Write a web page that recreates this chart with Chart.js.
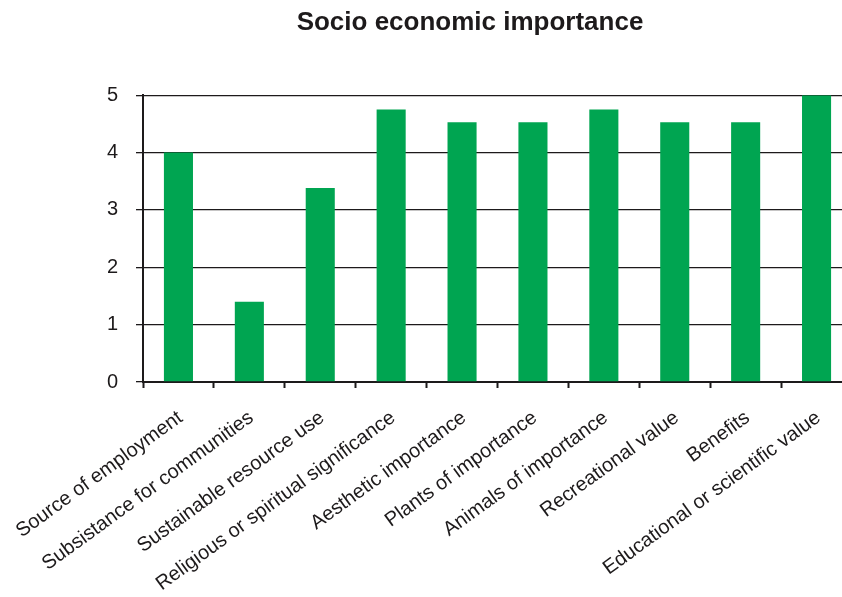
<!DOCTYPE html>
<html>
<head>
<meta charset="utf-8">
<script src="https://cdn.jsdelivr.net/npm/chart.js@4"></script>
<style>
  html, body { margin: 0; padding: 0; background: #fff; overflow: hidden; }
  canvas { display: block; }
</style>
</head>
<body>
<canvas id="chart" width="852" height="597"></canvas>
<script>
// chart data
const categories = [
  'Source of employment',
  'Subsistance for communities',
  'Sustainable resource use',
  'Religious or spiritual significance',
  'Aesthetic importance',
  'Plants of importance',
  'Animals of importance',
  'Recreational value',
  'Benefits',
  'Educational or scientific value'
];
const scores = [4.0, 1.4, 3.38, 4.75, 4.53, 4.53, 4.75, 4.53, 4.53, 5.0];
const yTicks = [0, 1, 2, 3, 4, 5];

const ink = '#1d1a1b';
const green = '#00a551';
const font = 'Liberation Sans, Arial, Helvetica, sans-serif';

const ctx = document.getElementById('chart').getContext('2d');
new Chart(ctx, {
  type: 'bar',
  data: {
    labels: categories,
    datasets: [{
      data: scores,
      backgroundColor: green,
      borderWidth: 0,
      categoryPercentage: 1,
      barPercentage: 0.41
    }]
  },
  options: {
    responsive: false,
    animation: false,
    layout: { padding: { left: 88, right: 0, top: 0, bottom: 0 } },
    plugins: {
      legend: { display: false },
      tooltip: { enabled: false },
      title: {
        display: true,
        text: 'Socio economic importance',
        color: ink,
        font: { family: font, size: 26, weight: 'bold' },
        padding: { top: 7, bottom: 57 }
      }
    },
    scales: {
      x: {
        // keep the plot's left edge on the y axis, labels may overhang
        afterFit: (scale) => { scale.height = 215; scale.paddingLeft = 0; scale.paddingRight = 0; },
        grid: {
          display: true,
          drawOnChartArea: false,
          drawTicks: true,
          tickLength: 6,
          tickWidth: 2,
          tickColor: ink,
          offset: true
        },
        border: { display: true, color: ink, width: 2 },
        ticks: {
          autoSkip: false,
          minRotation: 36,
          maxRotation: 36,
          padding: 18,
          labelOffset: 2,
          color: ink,
          font: { family: font, size: 20 }
        }
      },
      y: {
        min: 0,
        max: 5,
        afterFit: (scale) => { scale.width = 55; },
        afterBuildTicks: (scale) => { scale.ticks = yTicks.map(v => ({ value: v })); },
        grid: {
          color: ink,
          lineWidth: 1.3,
          tickLength: 7,
          tickColor: ink,
          tickWidth: 1.3
        },
        border: { display: true, color: ink, width: 2 },
        ticks: {
          padding: 18,
          color: ink,
          font: { family: font, size: 20 }
        }
      }
    }
  }
});
</script>
</body>
</html>
